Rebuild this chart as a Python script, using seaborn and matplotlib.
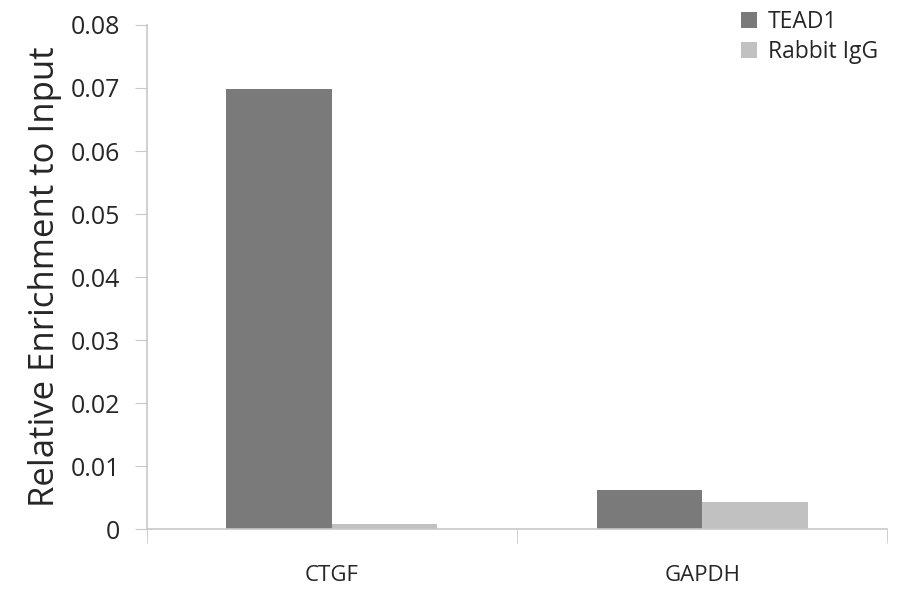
import numpy as np
import pandas as pd
import seaborn as sns
import matplotlib
matplotlib.use('Agg')
import matplotlib.pyplot as plt

genes = ['CTGF', 'GAPDH']
antibodies = ['TEAD1', 'Rabbit IgG']
tead1 = [0.0699, 0.0063]
igg = [0.0008, 0.0043]

df = pd.DataFrame({
    'gene': genes * 2,
    'antibody': [antibodies[0]] * 2 + [antibodies[1]] * 2,
    'value': tead1 + igg,
})

sns.set_style('white')
plt.rcParams['font.family'] = ['Open Sans', 'DejaVu Sans']

fig = plt.figure(figsize=(9, 5.94), dpi=100)
ax = fig.add_axes([0.163, 0.109, 0.823, 0.849])

sns.barplot(data=df, x='gene', y='value', hue='antibody', order=genes,
            hue_order=antibodies, palette=['#7a7a7a', '#c1c1c1'],
            width=0.57, saturation=1, linewidth=0, ax=ax)

ax.set_ylim(0, 0.08)
ax.set_xlim(-0.5, 1.5)
ax.set_yticks(np.arange(0, 0.081, 0.01))
ax.set_yticklabels(['0'] + ['%.2f' % v for v in np.arange(0.01, 0.081, 0.01)])
ax.tick_params(axis='y', labelsize=18, length=9, color='#c8c8c8', left=True, pad=10)
ax.tick_params(axis='x', labelsize=16, length=0, pad=26)
# category boundary ticks on x
ax.set_xticks([-0.5, 0.5, 1.5], minor=True)
ax.tick_params(axis='x', which='minor', length=10, color='#c8c8c8', bottom=True, direction='out')

ax.set_xlabel('')
ax.set_ylabel('Relative Enrichment to Input', fontsize=25, labelpad=6)

for s in ['top', 'right']:
    ax.spines[s].set_visible(False)
for s in ['left', 'bottom']:
    ax.spines[s].set_color('#c8c8c8')
    ax.spines[s].set_linewidth(1.2)

ax.legend(loc='upper right', bbox_to_anchor=(1.015, 1.07), frameon=False,
          fontsize=16.5, handlelength=0.7, handleheight=0.7, handletextpad=0.45,
          labelspacing=0.25)

fig.savefig('out.png', dpi=100)
